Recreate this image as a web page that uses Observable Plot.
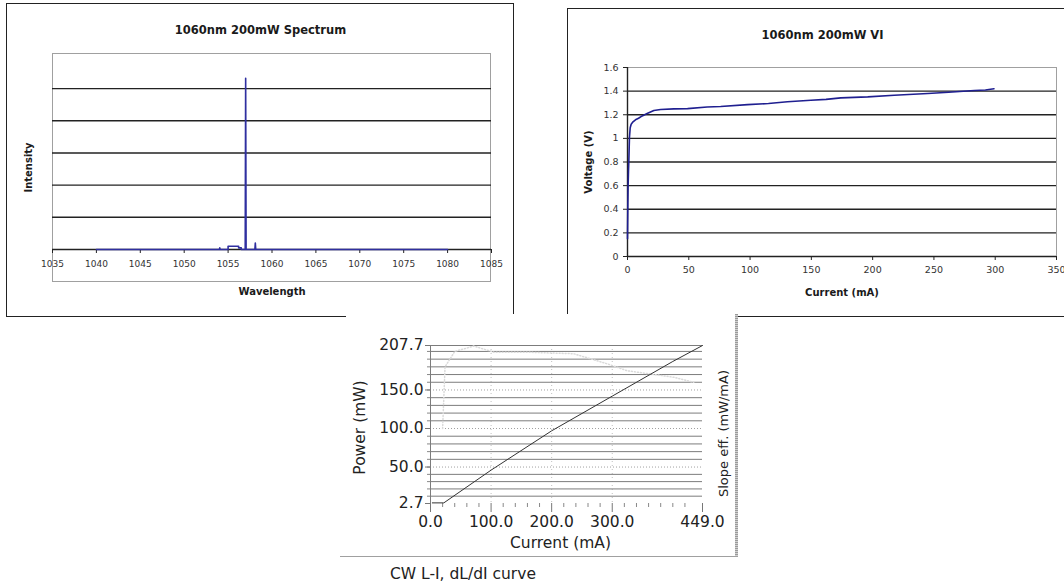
<!DOCTYPE html>
<html><head><meta charset="utf-8">
<script src="https://cdn.jsdelivr.net/npm/d3@7"></script>
<script src="https://cdn.jsdelivr.net/npm/@observablehq/plot@0.6"></script>
<style>
html,body{margin:0;padding:0;background:#fff;width:1064px;height:585px;overflow:hidden;position:relative;}
.abs{position:absolute;}
.box{position:absolute;border:1.5px solid #222;box-sizing:border-box;background:#fff;}
svg{overflow:visible;}
</style></head><body>
<div class="box" style="left:6px;top:3px;width:508px;height:314px;"></div>
<div class="abs" style="left:52px;top:53px;width:439px;height:229px;border:1px solid #a0a0a0;box-sizing:border-box;"></div>
<div id="c1" class="abs" style="left:0;top:0;"></div>
<div class="box" style="left:567px;top:8px;width:510px;height:309px;"></div>
<div id="c2" class="abs" style="left:560px;top:0;"></div>
<div id="c3wrap" class="abs" style="left:346px;top:314px;width:392px;height:271px;background:#fff;z-index:5;">
  <div id="c3" class="abs" style="left:0;top:0;"></div>
  <div class="abs" style="left:389px;top:0;width:3px;height:243px;background:repeating-linear-gradient(0deg,#9a9a9a 0 1px,#d0d0d0 1px 2px);"></div>
</div>
<div class="abs" style="left:340px;top:556px;width:398px;height:1px;background:#a0a0a0;z-index:6;"></div>
<div id="cap" class="abs" style="left:390px;top:565px;font-family:'DejaVu Sans';font-size:15.5px;color:#222;z-index:6;white-space:nowrap;"></div>
<script>
// ---------- Chart 1: spectrum ----------
const specTitle = "1060nm 200mW Spectrum";
const specXLabel = "Wavelength";
const specYLabel = "Intensity";
const specTicks = [1035, 1040, 1045, 1050, 1055, 1060, 1065, 1070, 1075, 1080, 1085];
const specGrid = [1, 2, 3, 4, 5];
const specWl  = [1040, 1054.0, 1054.05, 1054.1, 1055.0, 1055.0, 1056.2, 1056.2, 1056.5, 1056.5, 1056.95, 1057.0, 1057.05, 1058.05, 1058.1, 1058.15, 1080];
const specInt = [0,    0,      0.05,    0,      0,      0.1,    0.1,    0.05,   0.05,   0,      0,       5.32,   0,       0,       0.2,    0,       0];

// ---------- Chart 2: V-I ----------
const viTitle = "1060nm 200mW VI";
const viXLabel = "Current (mA)";
const viYLabel = "Voltage (V)";
const viXTicks = [0, 50, 100, 150, 200, 250, 300, 350];
const viYTicks = [0, 0.2, 0.4, 0.6, 0.8, 1, 1.2, 1.4, 1.6];
const viGrid = [0.2, 0.4, 0.6, 0.8, 1, 1.2, 1.4];
const ivI = [0, 0.3, 0.5, 0.8, 1.1, 1.6, 2.2, 3.0, 4.5, 6.5, 9, 12, 16, 21.5, 27, 37.8, 49, 65, 76, 98, 115, 130.5, 149.6, 162, 174, 196, 217.6, 245, 262, 283, 292, 299];
const ivV = [0.15, 0.45, 0.6, 0.72, 0.81, 1.01, 1.09, 1.12, 1.14, 1.157, 1.17, 1.19, 1.21, 1.236, 1.245, 1.25, 1.252, 1.265, 1.27, 1.286, 1.295, 1.31, 1.323, 1.33, 1.343, 1.351, 1.365, 1.38, 1.39, 1.405, 1.41, 1.42];

// ---------- Chart 3: L-I ----------
const liCaption = "CW L-I, dL/dI curve";
const liXLabel = "Current (mA)";
const liYLabel = "Power (mW)";
const liY2Label = "Slope eff. (mW/mA)";
const liXTicks = [0, 100, 200, 300, 449];
const liXMinor = [20, 40, 60, 80, 120, 140, 160, 180, 220, 240, 260, 280, 320, 340, 360, 380, 400, 420];
const liYTicks = [2.7, 50, 100, 150, 207.7];
const liGrid = [12.2, 21.6, 31.1, 40.5, 60, 70, 80, 90, 110, 120, 130, 140, 160, 170, 180, 190, 200];
const liGridDotted = [50, 100, 150];
const liVGrid = [100, 200, 300];
const liI = [3, 22, 100, 200, 300, 400, 449];
const liP = [3.5, 3.5, 46, 97, 142, 187, 207.7];
const slI = [20, 24, 40, 71.5, 104.5, 159.5, 236.5, 291.5, 324.5, 401.5, 434.5];
const slP = [100, 180, 200, 207, 199, 199, 197, 184, 175, 166.5, 160];

const spec = specWl.map((w, i) => ({w, v: specInt[i]}));
const iv = ivI.map((c, i) => ({c, v: ivV[i]}));
const li = liI.map((c, i) => ({c, p: liP[i]}));
const sl = slI.map((c, i) => ({c, p: slP[i]}));

const c1 = Plot.plot({
  width: 520, height: 316,
  marginLeft: 52, marginRight: 29, marginTop: 53, marginBottom: 67,
  style: {fontFamily: "DejaVu Sans", fontSize: "9px", color: "#333", background: "transparent", overflow: "visible"},
  x: {domain: [1035, 1085]},
  y: {domain: [0, 6.09], axis: null},
  marks: [
    Plot.ruleY(specGrid, {stroke: "#222", strokeWidth: 1.4}),
    Plot.ruleY([0], {stroke: "#222", strokeWidth: 1.4}),
    Plot.axisX(specTicks, {tickSize: 4, tickPadding: 7, stroke: "#222", label: null, tickFormat: d => String(d)}),
    Plot.line(spec, {x: "w", y: "v", stroke: "#2f2fa0", strokeWidth: 1.6}),
    Plot.text([specTitle], {text: d => d, frameAnchor: "top", textAnchor: "middle", dy: -27.5, dx: -11.5, fontWeight: "bold", fontSize: 11.5, fill: "#1a1a1a"}),
    Plot.text([specXLabel], {text: d => d, frameAnchor: "bottom", textAnchor: "middle", dy: 45, fontWeight: "bold", fontSize: 10, fill: "#1a1a1a"}),
    Plot.text([specYLabel], {text: d => d, frameAnchor: "left", textAnchor: "middle", dx: -24, dy: 16, rotate: -90, fontWeight: "bold", fontSize: 10, fill: "#1a1a1a"})
  ]
});
document.getElementById("c1").append(c1);

const c2 = Plot.plot({
  width: 504, height: 316,
  marginLeft: 67, marginRight: 8, marginTop: 67, marginBottom: 60,
  style: {fontFamily: "DejaVu Sans", fontSize: "9.5px", color: "#333", background: "transparent", overflow: "visible"},
  x: {domain: [0, 350]},
  y: {domain: [0, 1.6]},
  marks: [
    Plot.frame({stroke: "#a0a0a0"}),
    Plot.ruleY(viGrid, {stroke: "#222", strokeWidth: 1.4}),
    Plot.ruleX([0], {stroke: "#222", strokeWidth: 1.4}),
    Plot.ruleY([0], {stroke: "#222", strokeWidth: 1.4}),
    Plot.axisY(viYTicks, {tickSize: 4, tickPadding: 5, stroke: "#222", label: null, tickFormat: d3.format("~g")}),
    Plot.axisX(viXTicks, {tickSize: 4, tickPadding: 6, stroke: "#222", label: null, tickFormat: d => String(d)}),
    Plot.line(iv, {x: "c", y: "v", stroke: "#1f1f90", strokeWidth: 1.6}),
    Plot.text([viTitle], {text: d => d, frameAnchor: "top", textAnchor: "middle", dy: -37, dx: -19.5, fontWeight: "bold", fontSize: 11.5, fill: "#1a1a1a"}),
    Plot.text([viXLabel], {text: d => d, frameAnchor: "bottom", textAnchor: "middle", dy: 39, fontWeight: "bold", fontSize: 10, fill: "#1a1a1a"}),
    Plot.text([viYLabel], {text: d => d, frameAnchor: "left", textAnchor: "middle", dx: -39, rotate: -90, fontWeight: "bold", fontSize: 10, fill: "#1a1a1a"})
  ]
});
document.getElementById("c2").append(c2);

const c3 = Plot.plot({
  width: 392, height: 243,
  marginLeft: 84, marginRight: 36, marginTop: 31, marginBottom: 54,
  style: {fontFamily: "DejaVu Sans", fontSize: "15.5px", color: "#222", background: "transparent", overflow: "visible"},
  x: {domain: [0, 449]},
  y: {domain: [2.7, 207.7]},
  marks: [
    Plot.ruleX(liVGrid, {stroke: "#c0c0c0", strokeDasharray: "1,3"}),
    Plot.ruleY(liGrid, {stroke: "#7c7c7c", strokeWidth: 1}),
    Plot.ruleY(liGridDotted, {stroke: "#a0a0a0", strokeDasharray: "1,2"}),
    Plot.ruleY([207.7], {stroke: "#7c7c7c", strokeWidth: 1}),
    Plot.ruleX([0], {stroke: "#7c7c7c", strokeWidth: 1}),
    Plot.axisY(liGrid.concat(liGridDotted), {tickSize: 3, stroke: "#888", label: null, tickFormat: () => ""}),
    Plot.axisY(liYTicks, {tickSize: 5, tickPadding: 2, stroke: "#777", label: null, tickFormat: d3.format(".1f")}),
    Plot.axisX(liXMinor, {tickSize: 4, stroke: "#888", label: null, tickFormat: () => ""}),
    Plot.axisX(liXTicks, {tickSize: 9, tickPadding: 3, stroke: "#777", label: null, tickFormat: d3.format(".1f")}),
    Plot.line(sl, {x: "c", y: "p", stroke: "#dadada", strokeDasharray: "1,2"}),
    Plot.line(li, {x: "c", y: "p", stroke: "#333", strokeWidth: 1}),
    Plot.text([liXLabel], {text: d => d, frameAnchor: "bottom", textAnchor: "middle", dy: 44, dx: -6, fill: "#222"}),
    Plot.text([liYLabel], {text: d => d, frameAnchor: "left", textAnchor: "middle", dx: -70, dy: 3, rotate: -90, fill: "#222"}),
    Plot.text([liY2Label], {text: d => d, frameAnchor: "right", textAnchor: "middle", dx: 21, dy: 9, rotate: -90, fontSize: 13, fill: "#222"})
  ]
});
document.getElementById("c3").append(c3);
document.getElementById("cap").textContent = liCaption;
</script>
</body></html>
